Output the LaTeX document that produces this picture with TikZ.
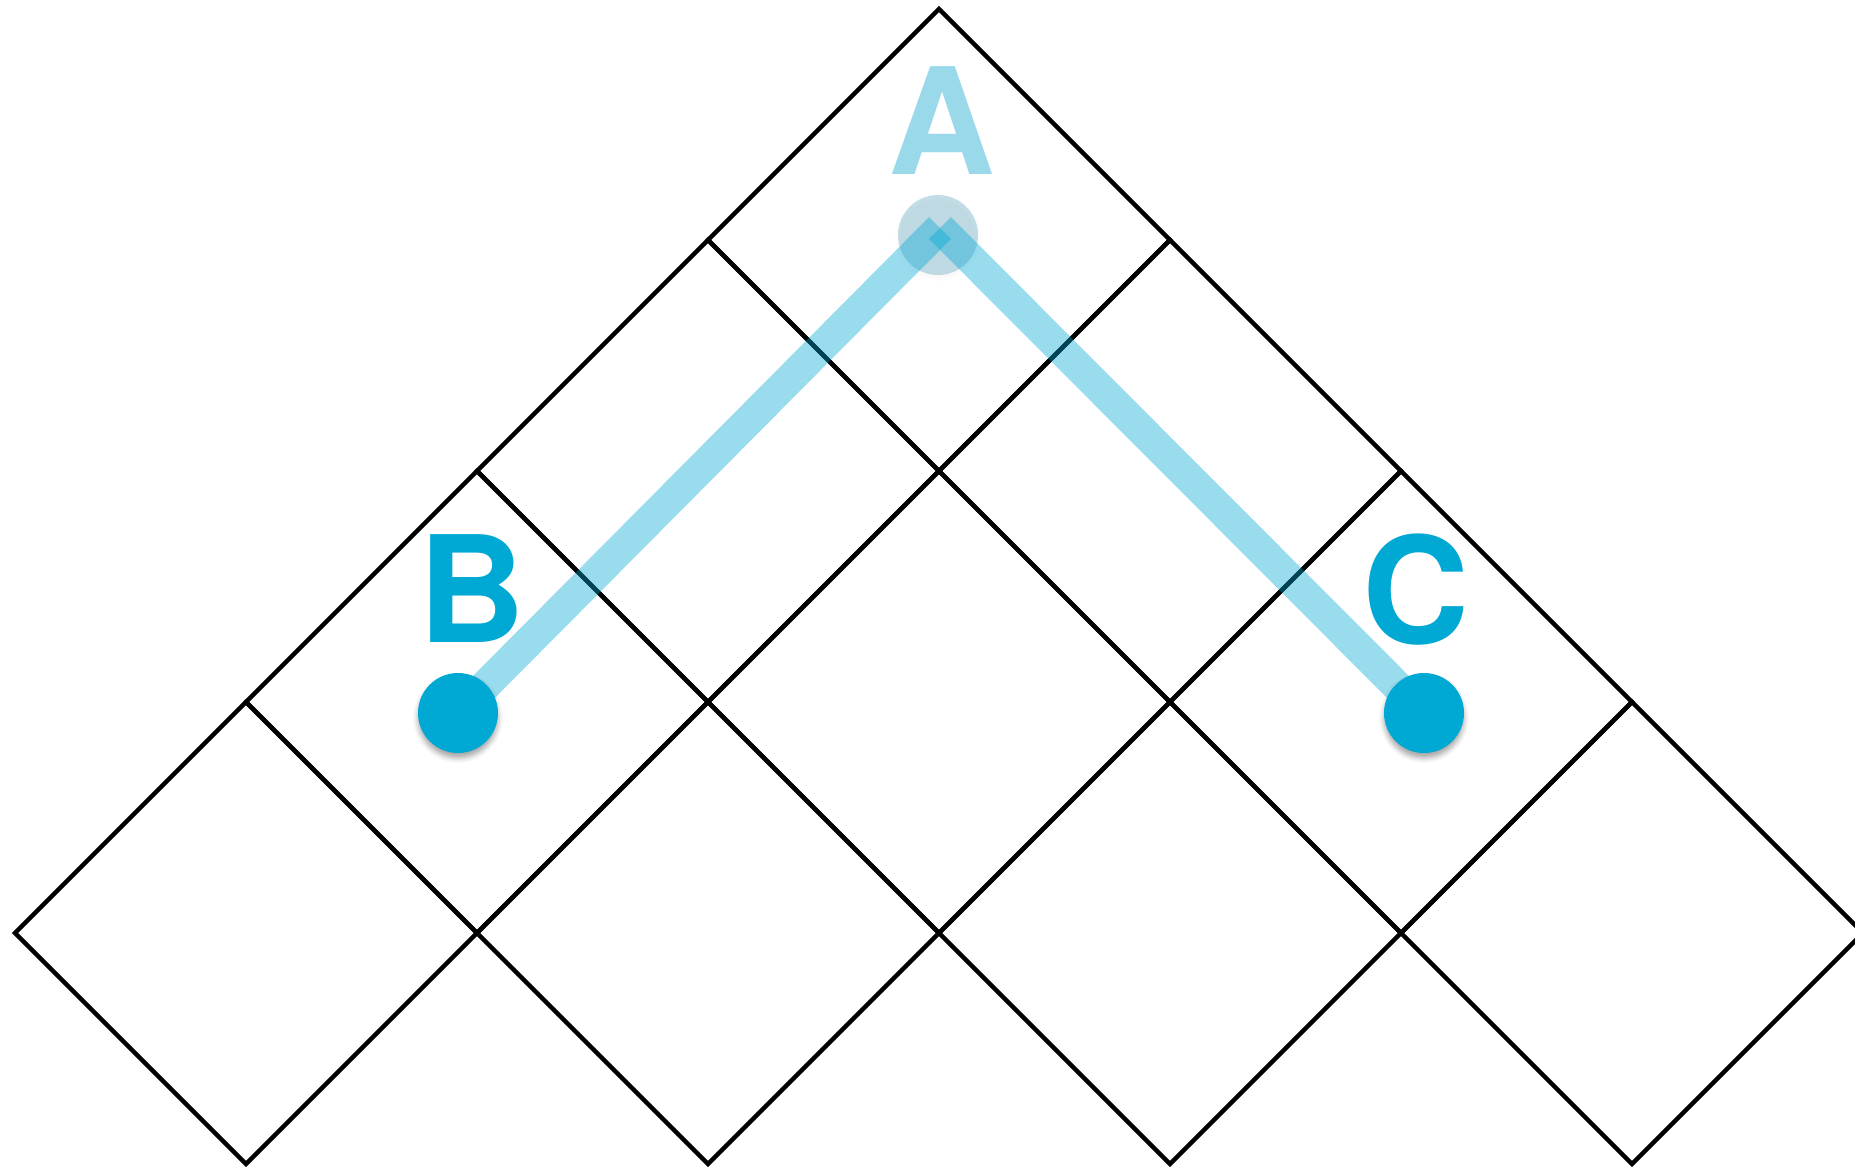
\documentclass[tikz,border=0pt]{standalone}
\usepackage{fontspec}
\setmainfont{TeX Gyre Heros}
\usetikzlibrary{shadows.blur}
\definecolor{dotblue}{RGB}{0,168,212}
\definecolor{pale}{RGB}{154,217,234}
\definecolor{faint}{RGB}{60,150,180}
\begin{document}
\begin{tikzpicture}[x=1pt,y=-1pt,
  gridline/.style={line width=4.5pt, black, line join=miter},
  route/.style={line width=31pt, dotblue, opacity=0.4, line cap=butt},
  dot/.style={circle, fill=dotblue, minimum size=80pt, inner sep=0pt,
    blur shadow={shadow xshift=0pt, shadow yshift=-5pt, shadow blur radius=5pt, shadow opacity=35}},
  faintdot/.style={circle, fill=faint, fill opacity=0.3, minimum size=80pt, inner sep=0pt,
    blur shadow={shadow xshift=0pt, shadow yshift=-3pt, shadow blur radius=4pt, shadow opacity=12}},
  lbl/.style={font=\fontsize{148}{148}\selectfont\bfseries, inner sep=0pt, anchor=base}]
\useasboundingbox (0,0) rectangle (1855,1167);
\begin{scope}
  \clip (0,0) rectangle (1855,1167);
  \foreach \k in {0,...,3} {
    \foreach \j in {0,...,\k} {
      \pgfmathsetmacro\cx{939+(2*\j-\k)*231}
      \pgfmathsetmacro\cy{240+\k*231}
      \draw[gridline] (\cx,\cy-231) -- (\cx+231,\cy) -- (\cx,\cy+231) -- (\cx-231,\cy) -- cycle;
    }
  }
\end{scope}
% faint point A
\node[faintdot] (A) at (938,235) {};
\coordinate (Aj) at (940,228);
\coordinate (Bp) at (458,713);
\coordinate (Cp) at (1424,713);
% routes
\draw[route] (Bp) -- (Aj);
\draw[route] (Aj) -- (Cp);
% dots
\node[dot] (B) at (Bp) {};
\node[dot] (C) at (Cp) {};
% labels
\node[lbl, text=pale] (LA) at (942,174) {A};
\node[lbl, text=dotblue] (LB) at (472,642) {B};
\node[lbl, text=dotblue] (LC) at (1416,643) {C};
\end{tikzpicture}
\end{document}
